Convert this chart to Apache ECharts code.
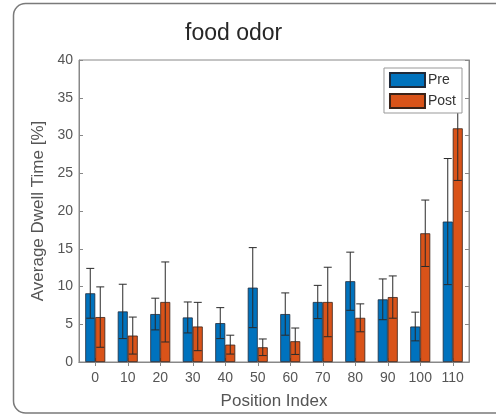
<!DOCTYPE html>
<html>
<head>
<meta charset="utf-8">
<script src="https://cdn.jsdelivr.net/npm/echarts@6/dist/echarts.min.js"></script>
<style>html,body{margin:0;padding:0;background:#fff;}#c{width:496px;height:415px;}</style>
</head>
<body>
<div id="c"></div>
<script>
const categories = ['0','10','20','30','40','50','60','70','80','90','100','110'];
const preValues  = [9.1, 6.7, 6.35, 5.9, 5.15, 9.85, 6.35, 7.95, 10.7, 8.3, 4.7, 18.6];
const preErrors  = [3.3, 3.6, 2.1, 2.05, 2.05, 5.3, 2.8, 2.2, 3.85, 2.7, 1.9, 8.35];
const postValues = [5.95, 3.5, 7.95, 4.7, 2.3, 1.95, 2.75, 7.95, 5.85, 8.6, 17.05, 30.95];
const postErrors = [4.0, 2.45, 5.3, 3.2, 1.25, 1.1, 1.75, 4.6, 1.85, 2.8, 4.4, 6.9];
const yTicks = { min: 0, max: 40, interval: 5 };

const FONT = '"Liberation Sans", Arial, sans-serif';
const BAR_W = 10;
const AXIS_COLOR = '#888';
const LABEL_COLOR = '#555';

function errData(vals, errs) {
  return vals.map((v, i) => [i, v, errs[i]]);
}
function errRender(offset) {
  return function (params, api) {
    const i = api.value(0), v = api.value(1), e = api.value(2);
    const top = api.coord([i, v + e]);
    const bot = api.coord([i, v - e]);
    const x = top[0] + offset;
    const half = 4;
    const style = { stroke: '#2a2a2a', lineWidth: 1 };
    return {
      type: 'group',
      children: [
        { type: 'line', shape: { x1: x, y1: top[1], x2: x, y2: bot[1] }, style },
        { type: 'line', shape: { x1: x - half, y1: top[1], x2: x + half, y2: top[1] }, style },
        { type: 'line', shape: { x1: x - half, y1: bot[1], x2: x + half, y2: bot[1] }, style }
      ]
    };
  };
}

const chart = echarts.init(document.getElementById('c'));
chart.setOption({
  backgroundColor: '#fff',
  animation: false,
  textStyle: { fontFamily: FONT },
  title: {
    text: 'food odor',
    left: 185, top: 22, padding: 0,
    textStyle: { fontFamily: FONT, fontSize: 23, fontWeight: 'normal', color: '#262626' }
  },
  graphic: [{
    type: 'rect', silent: true, z: -1,
    shape: { x: 13.5, y: 3.5, width: 530, height: 409.5, r: 12 },
    style: { fill: 'none', stroke: '#7a7a7a', lineWidth: 1.5 }
  }],
  legend: {
    orient: 'vertical', right: 34, top: 68, z: 20,
    itemWidth: 35, itemHeight: 14, itemGap: 5,
    padding: [4, 6, 4, 5],
    backgroundColor: '#fff', borderColor: '#999', borderWidth: 1,
    icon: 'rect',
    textStyle: { fontFamily: FONT, fontSize: 14, color: '#333', padding: [0, 0, 0, -2] },
    data: ['Pre', 'Post']
  },
  grid: { left: 79, right: 27, top: 60, bottom: 50, show: true, borderColor: AXIS_COLOR, borderWidth: 1, containLabel: false },
  xAxis: [{
    type: 'category', data: categories, position: 'bottom',
    name: 'Position Index', nameLocation: 'middle', nameGap: 31,
    nameTextStyle: { fontFamily: FONT, fontSize: 17, color: LABEL_COLOR },
    axisLine: { show: true, lineStyle: { color: AXIS_COLOR } },
    axisTick: { show: true, inside: true, length: 4, alignWithLabel: true, lineStyle: { color: AXIS_COLOR } },
    axisLabel: { fontFamily: FONT, fontSize: 14, color: LABEL_COLOR, margin: 9, interval: 0 },
    splitLine: { show: false }
  }, {
    type: 'category', data: categories, position: 'top',
    axisLine: { show: true, lineStyle: { color: AXIS_COLOR } },
    axisTick: { show: true, inside: true, length: 4, alignWithLabel: true, lineStyle: { color: AXIS_COLOR } },
    axisLabel: { show: false }, splitLine: { show: false }
  }],
  yAxis: [{
    type: 'value', min: yTicks.min, max: yTicks.max, interval: yTicks.interval, position: 'left',
    name: 'Average Dwell Time [%]', nameLocation: 'middle', nameGap: 27,
    nameTextStyle: { fontFamily: FONT, fontSize: 17, color: LABEL_COLOR },
    axisLine: { show: true, lineStyle: { color: AXIS_COLOR } },
    axisTick: { show: true, inside: true, length: 4, lineStyle: { color: AXIS_COLOR } },
    axisLabel: { fontFamily: FONT, fontSize: 14, color: LABEL_COLOR, margin: 6 },
    splitLine: { show: false }
  }, {
    type: 'value', min: yTicks.min, max: yTicks.max, interval: yTicks.interval, position: 'right',
    axisLine: { show: true, lineStyle: { color: AXIS_COLOR } },
    axisTick: { show: true, inside: true, length: 4, lineStyle: { color: AXIS_COLOR } },
    axisLabel: { show: false }, splitLine: { show: false }
  }],
  series: [{
    name: 'Pre', type: 'bar', data: preValues, barWidth: BAR_W, barGap: '0%',
    itemStyle: { color: '#0072BD', borderColor: '#1f2a3a', borderWidth: 0.8 }
  }, {
    name: 'Post', type: 'bar', data: postValues, barWidth: BAR_W, barGap: '0%',
    itemStyle: { color: '#D95319', borderColor: '#3a2218', borderWidth: 0.8 }
  }, {
    type: 'custom', name: 'PreErr', z: 5, data: errData(preValues, preErrors),
    renderItem: errRender(-BAR_W / 2), encode: { x: 0, y: 1 }
  }, {
    type: 'custom', name: 'PostErr', z: 5, data: errData(postValues, postErrors),
    renderItem: errRender(BAR_W / 2), encode: { x: 0, y: 1 }
  }]
});
</script>
</body>
</html>
